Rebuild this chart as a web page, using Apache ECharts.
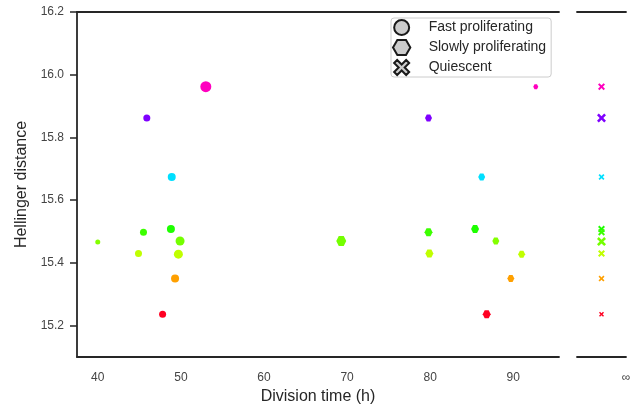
<!DOCTYPE html>
<html>
<head>
<meta charset="utf-8">
<script src="https://cdn.jsdelivr.net/npm/echarts@6/dist/echarts.min.js"></script>
<style>
  html, body { margin: 0; padding: 0; background: #fff; }
  #chart { width: 641px; height: 410px; }
</style>
</head>
<body>
<div id="chart"></div>
<script>
// data
var xTicks = [40, 50, 60, 70, 80, 90];
var yTicks = [15.2, 15.4, 15.6, 15.8, 16.0, 16.2];

// cell line index -> colour (hsv-like map)
var palette = ['#ff00bf', '#7f00ff', '#00dfff', '#3cff00', '#1eff00', '#84ff00', '#74ff00', '#c0ff00', '#ffa000', '#ff0022'];

// fast proliferating (circles)
var fastX = [53.0, 45.9, 48.9, 45.5, 48.8, 40.0, 49.9, 44.9, 49.7, 49.3, 47.8];
var fastY = [15.962, 15.862, 15.674, 15.498, 15.508, 15.467, 15.470, 15.430, 15.428, 15.350, 15.236];
var fastLine = [0, 1, 2, 3, 4, 5, 6, 7, 7, 8, 9];
var fastWeight = [11, 7, 8, 7, 8, 5, 9, 7, 9, 8, 7];

// slowly proliferating (hexagons)
var slowX = [92.7, 79.8, 86.2, 79.8, 85.4, 87.9, 79.9, 91.0, 89.7, 86.8, 69.3];
var slowY = [15.962, 15.862, 15.674, 15.498, 15.508, 15.470, 15.430, 15.428, 15.350, 15.236, 15.470];
var slowLine = [0, 1, 2, 3, 4, 5, 7, 7, 8, 9, 6];
var slowWeight = [5, 7, 7, 8, 8, 7, 8, 7, 7, 8, 10];

// quiescent (division time = infinity)
var quiY = [15.962, 15.862, 15.674, 15.508, 15.498, 15.468, 15.430, 15.350, 15.236];
var quiLine = [0, 1, 2, 4, 3, 6, 7, 8, 9];
var quiWeight = [7, 9, 6, 7, 7, 9, 7, 6, 5];

var hexPath = 'path://M0,5 L2.5,0.67 L7.5,0.67 L10,5 L7.5,9.33 L2.5,9.33 Z';
var crossPath = 'path://M0,2 L2,0 L5,3 L8,0 L10,2 L7,5 L10,8 L8,10 L5,7 L2,10 L0,8 L3,5 Z';

var font = '"Liberation Sans", Arial, sans-serif';
var spine = { lineStyle: { color: '#262626', width: 1.8 } };

function pts(xs, ys, lines, w) {
  return ys.map(function (y, i) {
    return {
      value: [xs[i], y],
      symbolSize: w[i],
      itemStyle: { color: palette[lines[i]], opacity: 1 }
    };
  });
}

var myChart = echarts.init(document.getElementById('chart'));

var option = {
  backgroundColor: '#fff',
  animation: false,
  textStyle: { fontFamily: font },
  grid: [
    { left: 77, top: 12, width: 482, height: 345 },
    { left: 577, top: 12, width: 49, height: 345 }
  ],
  legend: {
    left: 391,
    top: 18,
    orient: 'vertical',
    itemWidth: 30,
    itemHeight: 15,
    itemGap: 3,
    padding: [1, 5, 1, 1],
    borderColor: '#cccccc',
    borderWidth: 1,
    borderRadius: 3,
    backgroundColor: '#fff',
    textStyle: { fontSize: 14, lineHeight: 15, color: '#262626', fontFamily: font, padding: [0, 0, 0, 7] },
    data: [
      { name: 'Fast proliferating', icon: 'circle' },
      { name: 'Slowly proliferating', icon: hexPath },
      { name: 'Quiescent', icon: crossPath }
    ]
  },
  xAxis: [
    {
      gridIndex: 0, type: 'value', min: 37.5, max: 95.5, position: 'bottom',
      axisLine: spine, axisTick: { show: false }, splitLine: { show: false },
      axisLabel: { customValues: xTicks, color: '#444', fontSize: 12, margin: 15 },
      name: 'Division time (h)', nameLocation: 'middle', nameGap: 32,
      nameTextStyle: { fontSize: 16, color: '#262626' }
    },
    {
      gridIndex: 0, type: 'value', min: 37.5, max: 95.5, position: 'top',
      axisLine: spine, axisTick: { show: false }, axisLabel: { show: false }, splitLine: { show: false }
    },
    {
      gridIndex: 1, type: 'category', data: ['∞'], position: 'bottom',
      axisLine: spine, axisTick: { show: false }, splitLine: { show: false },
      axisLabel: { color: '#444', fontSize: 12, margin: 15, padding: [0, 0, 0, 49] }
    },
    {
      gridIndex: 1, type: 'category', data: ['∞'], position: 'top',
      axisLine: spine, axisTick: { show: false }, axisLabel: { show: false }, splitLine: { show: false }
    }
  ],
  yAxis: [
    {
      gridIndex: 0, type: 'value', min: 15.1, max: 16.2, position: 'left',
      axisLine: spine, splitLine: { show: false },
      axisTick: { customValues: yTicks, length: 7, lineStyle: { color: '#262626', width: 1.5 } },
      axisLabel: {
        customValues: yTicks, color: '#444', fontSize: 12, margin: 13,
        formatter: function (v) { return v.toFixed(1); }
      },
      name: 'Hellinger distance', nameLocation: 'middle', nameGap: 47,
      nameTextStyle: { fontSize: 16, color: '#262626' }
    },
    {
      gridIndex: 1, type: 'value', min: 15.1, max: 16.2, position: 'right',
      axisLine: spine, splitLine: { show: false },
      axisTick: { customValues: yTicks, length: 7, lineStyle: { color: '#262626', width: 1.5 } },
      axisLabel: { show: false }
    }
  ],
  series: [
    {
      name: 'Fast proliferating', type: 'scatter', xAxisIndex: 0, yAxisIndex: 0,
      symbol: 'circle',
      itemStyle: { color: '#cccccc', borderColor: '#1a1a1a', borderWidth: 1.3, opacity: 1 },
      data: []
    },
    {
      name: 'Slowly proliferating', type: 'scatter', xAxisIndex: 0, yAxisIndex: 0,
      symbol: hexPath,
      itemStyle: { color: '#cccccc', borderColor: '#1a1a1a', borderWidth: 1.3, opacity: 1 },
      data: []
    },
    {
      name: 'Quiescent', type: 'scatter', xAxisIndex: 2, yAxisIndex: 1,
      symbol: crossPath,
      itemStyle: { color: '#cccccc', borderColor: '#1a1a1a', borderWidth: 1.3, opacity: 1 },
      data: []
    },
    {
      type: 'scatter', xAxisIndex: 0, yAxisIndex: 0, symbol: 'circle',
      data: pts(fastX, fastY, fastLine, fastWeight)
    },
    {
      type: 'scatter', xAxisIndex: 0, yAxisIndex: 0, symbol: hexPath,
      data: pts(slowX, slowY, slowLine, slowWeight)
    },
    {
      type: 'scatter', xAxisIndex: 2, yAxisIndex: 1, symbol: crossPath, z: 3,
      data: pts(quiY.map(function () { return '∞'; }), quiY, quiLine, quiWeight)
    }
  ]
};

myChart.setOption(option);
</script>
</body>
</html>
